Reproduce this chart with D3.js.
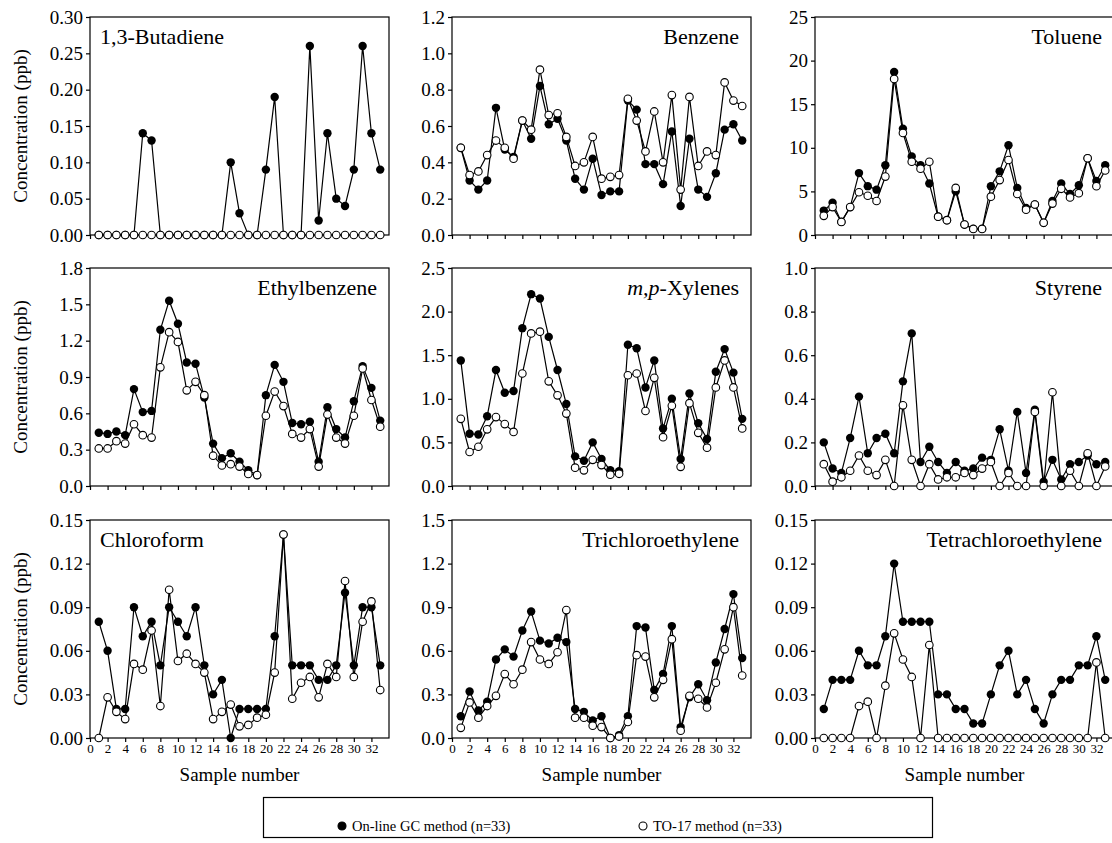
<!DOCTYPE html>
<html>

<head>
    <meta charset="utf-8">
    <style>
        body {
            margin: 0;
            background: #fff;
        }

        svg {
            display: block;
        }

        svg text {
            font-family: 'Liberation Serif', 'Times New Roman', Times, serif;
            fill: #000;
        }
    </style>
</head>

<body>
    <svg width="1112" height="843"></svg>

    <script src="https://d3js.org/d3.v7.min.js"></script>

    <script>
        // sample numbers 1..33
        let samples = d3.range(1, 34)
        let xTicks = [0, 2, 4, 6, 8, 10, 12, 14, 16, 18, 20, 22, 24, 26, 28, 30, 32]

        // On-line GC method (filled) and TO-17 method (open), ppb
        let butadieneGC = [0, 0, 0, 0, 0, 0.14, 0.13, 0, 0, 0, 0, 0, 0, 0, 0, 0.10, 0.03, 0, 0, 0.09, 0.19, 0, 0, 0, 0.26, 0.02, 0.14, 0.05, 0.04, 0.09, 0.26, 0.14, 0.09]
        let butadieneTO = [0, 0, 0, 0, 0, 0, 0, 0, 0, 0, 0, 0, 0, 0, 0, 0, 0, 0, 0, 0, 0, 0, 0, 0, 0, 0, 0, 0, 0, 0, 0, 0, 0]

        let benzeneGC = [0.48, 0.30, 0.25, 0.30, 0.70, 0.47, 0.43, 0.63, 0.53, 0.82, 0.61, 0.64, 0.52, 0.31, 0.25, 0.42, 0.22, 0.24, 0.24, 0.74, 0.69, 0.39, 0.39, 0.28, 0.57, 0.16, 0.53, 0.25, 0.21, 0.34, 0.58, 0.61, 0.52]
        let benzeneTO = [0.48, 0.33, 0.35, 0.44, 0.52, 0.48, 0.42, 0.63, 0.58, 0.91, 0.66, 0.67, 0.54, 0.38, 0.40, 0.54, 0.31, 0.32, 0.33, 0.75, 0.63, 0.46, 0.68, 0.40, 0.77, 0.25, 0.76, 0.38, 0.46, 0.44, 0.84, 0.74, 0.71]

        let tolueneGC = [2.8, 3.7, 1.5, 3.2, 7.1, 5.6, 5.2, 8.0, 18.7, 12.2, 9.0, 8.0, 5.9, 2.1, 1.7, 5.0, 1.2, 0.7, 0.7, 5.6, 7.3, 10.3, 5.4, 3.1, 3.5, 1.4, 3.9, 5.9, 4.7, 5.7, 8.8, 6.2, 8.0]
        let tolueneTO = [2.2, 3.2, 1.5, 3.2, 4.9, 4.5, 3.9, 6.7, 17.9, 11.7, 8.4, 7.6, 8.4, 2.1, 1.7, 5.4, 1.2, 0.7, 0.7, 4.4, 6.3, 8.6, 4.7, 2.9, 3.5, 1.4, 3.6, 5.3, 4.3, 4.8, 8.8, 5.6, 7.4]

        let ethylGC = [0.44, 0.43, 0.45, 0.42, 0.80, 0.61, 0.62, 1.29, 1.53, 1.34, 1.02, 1.01, 0.73, 0.35, 0.23, 0.27, 0.20, 0.13, 0.09, 0.75, 1.00, 0.86, 0.52, 0.51, 0.53, 0.20, 0.65, 0.47, 0.40, 0.70, 0.99, 0.81, 0.54]
        let ethylTO = [0.31, 0.31, 0.37, 0.35, 0.51, 0.42, 0.40, 0.98, 1.27, 1.19, 0.79, 0.86, 0.75, 0.25, 0.17, 0.18, 0.16, 0.10, 0.09, 0.58, 0.78, 0.66, 0.43, 0.40, 0.47, 0.16, 0.59, 0.40, 0.35, 0.58, 0.97, 0.71, 0.49]

        let xyleneGC = [1.44, 0.60, 0.59, 0.80, 1.33, 1.07, 1.09, 1.81, 2.20, 2.15, 1.71, 1.33, 0.94, 0.34, 0.29, 0.50, 0.31, 0.18, 0.17, 1.62, 1.58, 1.13, 1.44, 0.66, 1.00, 0.31, 1.06, 0.72, 0.54, 1.31, 1.57, 1.30, 0.77]
        let xyleneTO = [0.77, 0.39, 0.45, 0.65, 0.79, 0.71, 0.62, 1.29, 1.75, 1.77, 1.20, 1.04, 0.83, 0.21, 0.18, 0.30, 0.24, 0.13, 0.14, 1.27, 1.29, 0.86, 1.24, 0.56, 0.92, 0.22, 0.95, 0.61, 0.44, 1.13, 1.44, 1.13, 0.66]

        let styreneGC = [0.20, 0.08, 0.06, 0.22, 0.41, 0.15, 0.22, 0.24, 0.15, 0.48, 0.70, 0.11, 0.18, 0.11, 0.06, 0.11, 0.07, 0.08, 0.13, 0.12, 0.26, 0.07, 0.34, 0.06, 0.35, 0.02, 0.12, 0.03, 0.10, 0.11, 0.14, 0.10, 0.11]
        let styreneTO = [0.10, 0.02, 0.04, 0.07, 0.14, 0.07, 0.05, 0.12, 0, 0.37, 0.12, 0, 0.10, 0.03, 0.04, 0.04, 0.06, 0.05, 0.08, 0.11, 0, 0.06, 0, 0, 0.34, 0, 0.43, 0, 0.07, 0, 0.15, 0, 0.09]

        let chloroGC = [0.08, 0.06, 0.02, 0.02, 0.09, 0.07, 0.08, 0.05, 0.09, 0.08, 0.07, 0.09, 0.05, 0.03, 0.04, 0, 0.02, 0.02, 0.02, 0.02, 0.07, 0.14, 0.05, 0.05, 0.05, 0.04, 0.04, 0.05, 0.10, 0.05, 0.09, 0.09, 0.05]
        let chloroTO = [0, 0.028, 0.018, 0.013, 0.051, 0.047, 0.074, 0.022, 0.102, 0.053, 0.058, 0.051, 0.045, 0.013, 0.018, 0.023, 0.008, 0.009, 0.014, 0.016, 0.045, 0.14, 0.027, 0.038, 0.042, 0.028, 0.051, 0.042, 0.108, 0.042, 0.080, 0.094, 0.033]

        let trichloroGC = [0.15, 0.32, 0.19, 0.25, 0.54, 0.61, 0.56, 0.74, 0.87, 0.67, 0.65, 0.69, 0.66, 0.20, 0.18, 0.12, 0.15, 0, 0.02, 0.15, 0.77, 0.76, 0.33, 0.44, 0.77, 0.075, 0.28, 0.37, 0.26, 0.52, 0.75, 0.99, 0.55]
        let trichloroTO = [0.07, 0.245, 0.14, 0.22, 0.29, 0.44, 0.37, 0.47, 0.66, 0.54, 0.51, 0.59, 0.88, 0.14, 0.14, 0.085, 0.075, 0, 0.01, 0.11, 0.57, 0.56, 0.28, 0.40, 0.68, 0.05, 0.29, 0.27, 0.21, 0.38, 0.61, 0.90, 0.43]

        let tetraGC = [0.02, 0.04, 0.04, 0.04, 0.06, 0.05, 0.05, 0.07, 0.12, 0.08, 0.08, 0.08, 0.08, 0.03, 0.03, 0.02, 0.02, 0.01, 0.01, 0.03, 0.05, 0.06, 0.03, 0.04, 0.02, 0.01, 0.03, 0.04, 0.04, 0.05, 0.05, 0.07, 0.04]
        let tetraTO = [0, 0, 0, 0, 0.022, 0.025, 0, 0.036, 0.072, 0.054, 0.042, 0, 0.064, 0, 0, 0, 0, 0, 0, 0, 0, 0, 0, 0, 0, 0, 0, 0, 0, 0, 0, 0.052, 0]

        let compounds = ["1,3-Butadiene", "Benzene", "Toluene", "Ethylbenzene", "m,p-Xylenes", "Styrene", "Chloroform", "Trichloroethylene", "Tetrachloroethylene"]
        let yMaxes = [0.30, 1.2, 25, 1.8, 2.5, 1.0, 0.15, 1.5, 0.15]
        let ySteps = [0.05, 0.2, 5, 0.3, 0.5, 0.2, 0.03, 0.3, 0.03]
        let yFormats = [".2f", ".1f", "d", ".1f", ".1f", ".1f", ".2f", ".1f", ".2f"]
        let gcSeries = [butadieneGC, benzeneGC, tolueneGC, ethylGC, xyleneGC, styreneGC, chloroGC, trichloroGC, tetraGC]
        let toSeries = [butadieneTO, benzeneTO, tolueneTO, ethylTO, xyleneTO, styreneTO, chloroTO, trichloroTO, tetraTO]

        let legendLabels = ["On-line GC method (n=33)", "TO-17 method (n=33)"]

        // layout
        let colLeft = [90, 452, 815]
        let rowTop = [17, 268, 520]
        let pw = 299
        let ph = 218

        let svg = d3.select("svg")

        compounds.forEach(function (name, k) {
            let col = k % 3
            let row = Math.floor(k / 3)
            let left = colLeft[col]
            let top = rowTop[row]

            let x = d3.scaleLinear().domain([0, 34]).range([left, left + pw])
            let y = d3.scaleLinear().domain([0, yMaxes[k]]).range([top + ph, top])

            let g = svg.append("g").attr("class", "panel")

            // frame
            g.append("rect")
                .attr("x", left)
                .attr("y", top)
                .attr("width", pw)
                .attr("height", ph)
                .attr("fill", "none")
                .attr("stroke", "#000")
                .attr("stroke-width", 1.2)

            let yTicks = d3.range(0, yMaxes[k] + ySteps[k] / 2, ySteps[k])

            let yAxis = g.append("g")
                .attr("transform", `translate(${left},0)`)
                .call(d3.axisLeft(y)
                    .tickValues(yTicks)
                    .tickSize(4)
                    .tickSizeOuter(0)
                    .tickPadding(3)
                    .tickFormat(d3.format(yFormats[k])))
            yAxis.select(".domain").remove()
            yAxis.selectAll("line").attr("stroke", "#000").attr("stroke-width", 1.2)
            yAxis.selectAll("text").style("font-size", "19px")

            let xAxis = g.append("g")
                .attr("transform", `translate(0,${top + ph})`)
                .call(d3.axisBottom(x)
                    .tickValues(xTicks)
                    .tickSize(4)
                    .tickSizeOuter(0)
                    .tickPadding(2)
                    .tickFormat(row == 2 ? d3.format("d") : ""))
            xAxis.select(".domain").remove()
            xAxis.selectAll("line").attr("stroke", "#000").attr("stroke-width", 1.2)
            xAxis.selectAll("text").style("font-size", "13px")

            // compound name
            let title = g.append("text")
                .attr("y", top + 27)
                .style("font-size", "22px")
            if (col == 0 && row != 1) {
                title.attr("x", left + 10).attr("text-anchor", "start")
            } else {
                title.attr("x", left + pw - 12).attr("text-anchor", "end")
            }
            if (name == "m,p-Xylenes") {
                title.append("tspan").style("font-style", "italic").text("m,p")
                title.append("tspan").text("-Xylenes")
            } else {
                title.text(name)
            }

            let line = d3.line()
                .x((d, i) => x(samples[i]))
                .y(d => y(d))

            g.append("path")
                .datum(gcSeries[k])
                .attr("d", line)
                .attr("fill", "none")
                .attr("stroke", "#000")
                .attr("stroke-width", 1.2)

            g.append("path")
                .datum(toSeries[k])
                .attr("d", line)
                .attr("fill", "none")
                .attr("stroke", "#000")
                .attr("stroke-width", 1.2)

            g.append("g")
                .selectAll("circle")
                .data(gcSeries[k])
                .join("circle")
                .attr("cx", (d, i) => x(samples[i]))
                .attr("cy", d => y(d))
                .attr("r", 4.2)
                .attr("fill", "#000")

            g.append("g")
                .selectAll("circle")
                .data(toSeries[k])
                .join("circle")
                .attr("cx", (d, i) => x(samples[i]))
                .attr("cy", d => y(d))
                .attr("r", 3.8)
                .attr("fill", "#fff")
                .attr("stroke", "#000")
                .attr("stroke-width", 1.1)

            if (col == 0) {
                svg.append("text")
                    .attr("transform", `translate(27,${top + ph / 2}) rotate(-90)`)
                    .attr("text-anchor", "middle")
                    .style("font-size", "19px")
                    .text("Concentration (ppb)")
            }
            if (row == 2) {
                svg.append("text")
                    .attr("x", left + pw / 2)
                    .attr("y", 781)
                    .attr("text-anchor", "middle")
                    .style("font-size", "19px")
                    .text("Sample number")
            }
        })

        // legend
        let legend = svg.append("g")
        legend.append("rect")
            .attr("x", 263.5)
            .attr("y", 797.5)
            .attr("width", 669)
            .attr("height", 40)
            .attr("fill", "#fff")
            .attr("stroke", "#000")
            .attr("stroke-width", 1.2)

        let legendX = [342, 643]
        legendLabels.forEach(function (label, i) {
            legend.append("circle")
                .attr("cx", legendX[i])
                .attr("cy", 826)
                .attr("r", 4)
                .attr("fill", i == 0 ? "#000" : "#fff")
                .attr("stroke", "#000")
                .attr("stroke-width", 1.1)
            legend.append("text")
                .attr("x", legendX[i] + 10)
                .attr("y", 831)
                .style("font-size", "14.5px")
                .text(label)
        })
    </script>
</body>

</html>
